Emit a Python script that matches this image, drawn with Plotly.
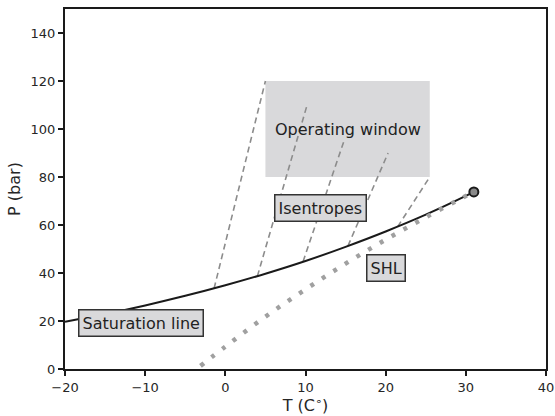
import plotly.graph_objects as go

# CO2 saturation line (T in C, P in bar)
sat_T = [-20, -15, -10, -5, 0, 5, 10, 15, 20, 25, 30, 31]
sat_P = [19.7, 22.9, 26.5, 30.5, 34.9, 39.7, 45.0, 50.9, 57.3, 64.3, 72.1, 73.8]

# SHL (dotted)
shl_T = [-3.1, 0, 5, 10, 15, 20, 25, 30, 31]
shl_P = [1.3, 9.3, 21.8, 33.2, 43.9, 53.9, 63.2, 72.1, 73.8]

# isentropes: start on saturation line, end at top
ise_T0 = [-1.4, 4.0, 9.7, 15.3, 21.5]
ise_P0 = [33.6, 38.7, 44.8, 51.3, 59.3]
ise_T1 = [5.0, 10.2, 14.9, 20.3, 25.5]
ise_P1 = [120, 110, 96, 90, 80]

# operating window
win_T = [5.0, 25.5]
win_P = [80, 120]

crit_T = [31.0]
crit_P = [73.8]

FONT = "DejaVu Sans"

fig = go.Figure()

fig.add_shape(type="rect", xref="x", yref="y",
              x0=win_T[0], x1=win_T[1], y0=win_P[0], y1=win_P[1],
              fillcolor="#d9d9db", line=dict(width=0), layer="below")

for i in range(len(ise_T0)):
    fig.add_trace(go.Scatter(
        x=[ise_T0[i], ise_T1[i]], y=[ise_P0[i], ise_P1[i]],
        mode="lines", line=dict(color="#8c8c8c", width=1.6, dash="6px,4px"),
        hoverinfo="skip"))

fig.add_trace(go.Scatter(x=sat_T, y=sat_P, mode="lines",
                         line=dict(color="#1a1a1a", width=2, shape="spline")))

fig.add_trace(go.Scatter(x=shl_T, y=shl_P, mode="lines",
                         line=dict(color="#a0a0a0", width=4.5, dash="4px,9.6px", shape="spline")))

fig.add_trace(go.Scatter(x=crit_T, y=crit_P, mode="markers",
                         marker=dict(size=9, color="#8a8a8a",
                                     line=dict(color="#1a1a1a", width=2))))

box = dict(bgcolor="#d9d9db", bordercolor="#333333", borderwidth=1.5, borderpad=3,
           showarrow=False, font=dict(family=FONT, size=16, color="#222222"))
fig.add_annotation(x=15.25, y=100, text="Operating window", showarrow=False,
                   font=dict(family=FONT, size=16, color="#222222"))
fig.add_annotation(x=11.86, y=66.9, text="Isentropes", **box)
fig.add_annotation(x=20.0, y=42.2, text="SHL", **box)
fig.add_annotation(x=-10.55, y=19.0, text="Saturation line", **box)

axis = dict(showgrid=False, zeroline=False, showline=True, mirror=True,
            linecolor="#1a1a1a", linewidth=2, ticks="outside", ticklen=5,
            tickwidth=1.5, tickcolor="#1a1a1a", automargin=False,
            tickfont=dict(family=FONT, size=13, color="#262626"))

fig.update_layout(
    width=555, height=416,
    margin=dict(l=65, r=9, t=9, b=47),
    paper_bgcolor="white", plot_bgcolor="white",
    showlegend=False,
    font=dict(family=FONT, color="#262626"),
    xaxis=dict(range=[-20, 40], dtick=10,
               title=dict(text="T (C<sup>∘</sup>)", font=dict(size=16), standoff=4),
               **axis),
    yaxis=dict(range=[0, 150], tickvals=[0, 20, 40, 60, 80, 100, 120, 140],
               title=dict(text="P (bar)", font=dict(size=16), standoff=6),
               **axis),
)

# page has default body margin; remove it so the figure fills the window
fig.write_html("out.html", config={"displayModeBar": False},
               post_script="document.body.style.margin='0';document.body.style.overflow='hidden';")
